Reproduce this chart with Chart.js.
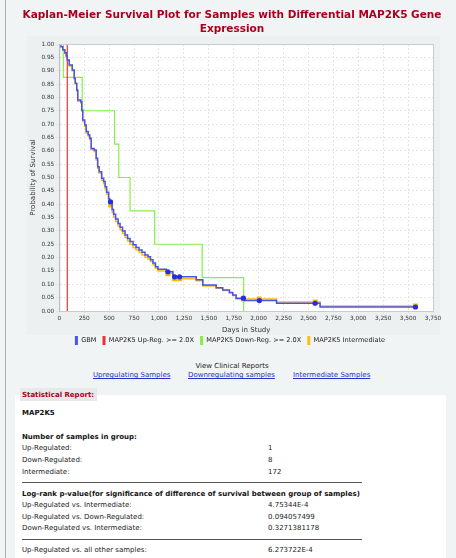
<!DOCTYPE html>
<html>
<head>
<meta charset="utf-8">
<script src="https://cdn.jsdelivr.net/npm/chart.js@4"></script>
<style>
  html, body { margin:0; padding:0; }
  body { width:456px; height:558px; background:#f1f4f4; position:relative; overflow:hidden; font-family:"DejaVu Sans", Verdana, sans-serif; }
  #leftline { position:absolute; left:5px; top:0; width:1px; height:558px; background:#a9adad; }
  .t { position:absolute; white-space:nowrap; }
  #title { position:absolute; left:0; width:464px; top:7px; text-align:center; color:#a8001e; font-weight:bold; font-size:10.5px; line-height:14px; }
  #chartwrap { position:absolute; left:0; top:0; width:456px; height:359px; }
  .link { color:#2530c8; text-decoration:underline; font-size:7px; line-height:10px; }
  #report { position:absolute; left:15px; top:395px; width:431px; height:170px; background:#ffffff; }
  #tab { position:absolute; left:20px; top:388px; width:77px; height:13px; background:#e6e9e9; }
  .hd { font-weight:bold; font-size:7px; line-height:10px; color:#111; }
  .rw { font-size:7px; line-height:10px; color:#222; }
  .hr { position:absolute; left:22px; width:340px; height:1px; background:#555; }
</style>
</head>
<body>
<div id="leftline"></div>
<div id="chartwrap"><canvas id="c" width="456" height="359"></canvas></div>
<div id="title">Kaplan-Meier Survival Plot for Samples with Differential MAP2K5 Gene<br>Expression</div>

<div class="t" style="left:0;width:464px;text-align:center;top:361px;font-size:7px;line-height:10px;color:#222;">View Clinical Reports</div>
<div class="t link" style="left:93px;top:370px;">Upregulating Samples</div>
<div class="t link" style="left:188px;top:370px;">Downregulating samples</div>
<div class="t link" style="left:293px;top:370px;">Intermediate Samples</div>

<div id="report"></div>
<div id="tab"></div>
<div class="t hd" style="left:22px;top:389.5px;color:#a8001e;">Statistical Report:</div>
<div class="t hd" style="left:22px;top:407.5px;">MAP2K5</div>
<div class="t hd" style="left:22px;top:431.5px;">Number of samples in group:</div>
<div class="t rw" style="left:22px;top:443px;">Up-Regulated:</div><div class="t rw" style="left:268px;top:443px;">1</div>
<div class="t rw" style="left:22px;top:454.5px;">Down-Regulated:</div><div class="t rw" style="left:268px;top:454.5px;">8</div>
<div class="t rw" style="left:22px;top:467px;">Intermediate:</div><div class="t rw" style="left:268px;top:467px;">172</div>
<div class="hr" style="top:482px;"></div>
<div class="t hd" style="left:22px;top:489px;">Log-rank p-value(for significance of difference of survival between group of samples)</div>
<div class="t rw" style="left:22px;top:500px;">Up-Regulated vs. Intermediate:</div><div class="t rw" style="left:268px;top:500px;">4.75344E-4</div>
<div class="t rw" style="left:22px;top:511.5px;">Up-Regulated vs. Down-Regulated:</div><div class="t rw" style="left:268px;top:511.5px;">0.094057499</div>
<div class="t rw" style="left:22px;top:523px;">Down-Regulated vs. Intermediate:</div><div class="t rw" style="left:268px;top:523px;">0.3271381178</div>
<div class="hr" style="top:539px;"></div>
<div class="t rw" style="left:22px;top:545px;">Up-Regulated vs. all other samples:</div><div class="t rw" style="left:268px;top:545px;">6.273722E-4</div>

<script>
// ---- data (days, survival probability) ----
const gbmDays = [0,15,35,55,70,80,100,130,150,160,175,185,215,225,235,255,270,290,305,320,350,370,385,400,425,445,460,475,495,505,530,545,565,590,610,635,660,685,710,740,770,800,830,860,890,915,940,965,990,1074,1140,1374,1440,1574,1640,1707,1740,1774,1860,2180,2617,3574];
const gbmSurv = [1,0.99,0.978,0.967,0.955,0.94,0.921,0.903,0.872,0.853,0.828,0.79,0.784,0.753,0.715,0.697,0.672,0.66,0.647,0.609,0.603,0.572,0.54,0.522,0.497,0.485,0.465,0.445,0.42,0.409,0.38,0.362,0.345,0.328,0.314,0.3,0.285,0.272,0.26,0.248,0.238,0.228,0.22,0.21,0.203,0.192,0.18,0.166,0.156,0.147,0.128,0.117,0.097,0.087,0.079,0.069,0.06,0.048,0.039,0.029,0.015,0.015];
const gbmCensorDays = [514,1090,1157,1207,1847,2007,2567,3574];
const gbmCensorSurv = [0.409,0.147,0.128,0.128,0.048,0.039,0.029,0.015];

const upDays = [0,80];
const upSurv = [1,0];

const downDays = [0,40,230,554,597,710,957,1434,1850];
const downSurv = [1,0.875,0.75,0.625,0.5,0.375,0.25,0.125,0];

const interDays = [0,15,35,55,70,80,100,130,150,160,175,185,215,225,235,255,270,290,305,320,350,370,385,400,425,445,460,475,495,505,530,545,565,590,610,635,660,685,710,740,770,800,830,860,890,915,940,965,990,1074,1140,1374,1440,1574,1640,1707,1740,1774,2180,2617,3574];
const interSurv = [1,0.99,0.977,0.965,0.953,0.938,0.918,0.9,0.868,0.85,0.824,0.786,0.779,0.748,0.71,0.692,0.667,0.655,0.641,0.604,0.597,0.566,0.534,0.516,0.49,0.477,0.457,0.437,0.41,0.397,0.37,0.352,0.335,0.318,0.304,0.29,0.275,0.262,0.25,0.238,0.228,0.219,0.21,0.201,0.195,0.185,0.173,0.16,0.15,0.14,0.121,0.113,0.094,0.085,0.077,0.068,0.058,0.045,0.034,0.019,0.019];
const interCensorDays = [514,1090,1157,1207,1847,2007,2567,3574];
const interCensorSurv = [0.397,0.14,0.121,0.121,0.045,0.045,0.034,0.019];

const seriesNames = ['GBM','MAP2K5 Up-Reg. >= 2.0X','MAP2K5 Down-Reg. >= 2.0X','MAP2K5 Intermediate'];

const pts = (d, s) => d.map((x, i) => ({x: x, y: s[i]}));

const BLUE = '#4455ee', RED = '#ee3030', GREEN = '#88ee44', ORANGE = '#ffbb11';

const bgPlugin = {
  id: 'bg',
  afterUpdate(chart) {
    if (chart.legend) { chart.legend.top -= 4; chart.legend.bottom -= 4; }
  },
  beforeDraw(chart) {
    const ctx = chart.ctx, a = chart.chartArea;
    ctx.save();
    ctx.fillStyle = '#ecf0f0';
    ctx.fillRect(27, 36, 413, 299);
    ctx.fillStyle = '#ffffff';
    ctx.fillRect(a.left, a.top, a.right - a.left, a.bottom - a.top);
    ctx.restore();
  },
  afterDatasetsDraw(chart) {
    const ctx = chart.ctx, a = chart.chartArea;
    ctx.save();
    ctx.strokeStyle = '#c8cccc';
    ctx.lineWidth = 1;
    ctx.strokeRect(a.left + 0.5, a.top + 0.5, a.right - a.left, a.bottom - a.top);
    ctx.restore();
  }
};

const lineDs = (label, data, color, w) => ({
  label, data, borderColor: color, backgroundColor: color, borderWidth: w,
  stepped: true, pointRadius: 0, pointHoverRadius: 0, fill: false, tension: 0
});

new Chart(document.getElementById('c'), {
  type: 'line',
  data: {
    datasets: [
      { label: '_c1', data: pts(gbmCensorDays, gbmCensorSurv), showLine: false, pointStyle: 'circle', pointRadius: 2.6, backgroundColor: '#1f2fe8', borderColor: '#1f2fe8', borderWidth: 0 },
      lineDs(seriesNames[0], pts(gbmDays, gbmSurv), BLUE, 1.5),
      lineDs(seriesNames[1], pts(upDays, upSurv), RED, 1.2),
      lineDs(seriesNames[2], pts(downDays, downSurv), GREEN, 1.2),
      { label: '_c2', data: pts(interCensorDays, interCensorSurv), showLine: false, pointStyle: 'rect', pointRadius: 3.6, backgroundColor: '#ffb800', borderColor: '#ffb800', borderWidth: 0 },
      lineDs(seriesNames[3], pts(interDays, interSurv), ORANGE, 1.5)
    ]
  },
  options: {
    responsive: false,
    animation: false,
    devicePixelRatio: 1,
    layout: { padding: { left: 27, right: 23, top: 44, bottom: 0 } },
    plugins: {
      legend: {
        position: 'bottom',
        labels: {
          boxWidth: 3, boxHeight: 9, padding: 6,
          color: '#222',
          font: { family: 'DejaVu Sans', size: 6.6 },
          filter: (item) => !item.text.startsWith('_'),
          generateLabels(chart) {
            const items = Chart.defaults.plugins.legend.labels.generateLabels(chart);
            items.forEach(it => { it.lineWidth = 0; it.strokeStyle = 'rgba(0,0,0,0)'; });
            return items;
          }
        }
      },
      tooltip: { enabled: false }
    },
    scales: {
      x: {
        type: 'linear', min: 0, max: 3750,
        ticks: { stepSize: 250, color: '#333', font: { family: 'DejaVu Sans', size: 5.8 }, padding: 1, maxRotation: 0, autoSkip: false,
          callback: (v) => v.toLocaleString('en-US') },
        grid: { color: '#e4e6e6', tickLength: 3, drawTicks: true },
        border: { display: true, color: '#9a9e9e', dash: [2, 2] },
        title: { display: true, text: 'Days in Study', color: '#333', font: { family: 'DejaVu Sans', size: 7 }, padding: { top: 1, bottom: 0 } },
        afterFit: (s) => { s.height = 23; }
      },
      y: {
        type: 'linear', min: 0, max: 1,
        ticks: { stepSize: 0.05, color: '#333', font: { family: 'DejaVu Sans', size: 5.8 }, padding: 2, autoSkip: false,
          callback: (v) => v.toFixed(2) },
        grid: { color: '#e4e6e6', tickLength: 3, drawTicks: true },
        border: { display: true, color: '#9a9e9e', dash: [2, 2] },
        title: { display: true, text: 'Probability of Survival', color: '#333', font: { family: 'DejaVu Sans', size: 7 }, padding: { top: 2, bottom: 0 } },
        afterFit: (s) => { s.width = 32.3; }
      }
    }
  },
  plugins: [bgPlugin]
});
</script>
</body>
</html>
